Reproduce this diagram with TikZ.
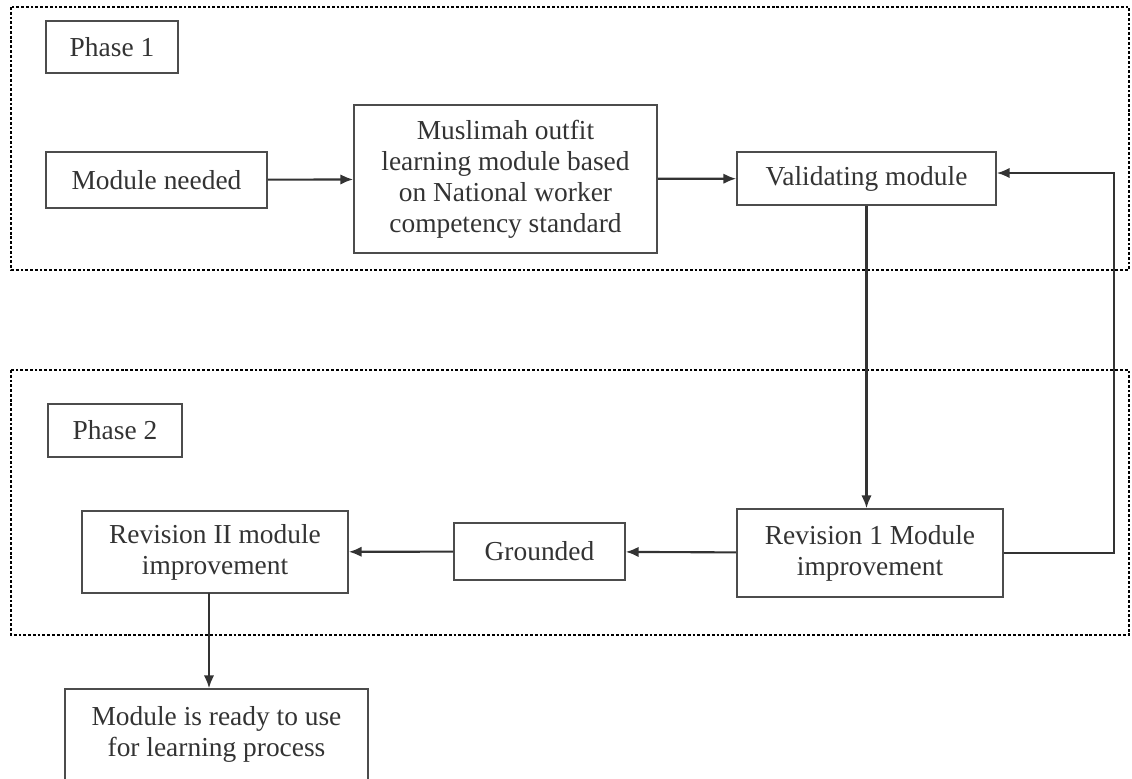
\documentclass[tikz,border=0pt]{standalone}
\usepackage{fontspec}
\setmainfont{Liberation Serif}
\usepackage{tikz}
\usetikzlibrary{arrows.meta}

\begin{document}
\begin{tikzpicture}[
    x=0.025cm, y=-0.025cm,
    box/.style={rectangle, draw=black!70, line width=1.1pt, text=black!80, align=center, inner sep=1pt, font=\fontsize{19.5}{22}\selectfont},
    frame/.style={draw=black, line width=2pt, dash pattern=on 2pt off 1.4pt},
    arrow/.style={-{Latex[length=3.2mm, width=2.6mm]}, line width=1.5pt, draw=black!80}
]
\useasboundingbox (0,0) rectangle (1132,778);
% phase frames
\draw[frame] (11,7) rectangle (1129,270);
\draw[frame] (11,370) rectangle (1129,635);

\node[box, minimum width=3.3cm, minimum height=1.3cm] (phaseone) at (112,47) {Phase 1};
\node[box, minimum width=5.525cm, minimum height=1.4cm] (needed) at (156.5,180) {Module needed};
\node[box, minimum width=7.575cm, minimum height=3.7cm] (muslimah) at (505.5,179) {Muslimah outfit\\learning module based\\on National worker\\competency standard};
\node[box, minimum width=6.475cm, minimum height=1.325cm] (validate) at (866.5,178.5) {Validating module};
\node[box, minimum width=3.35cm, minimum height=1.325cm] (phasetwo) at (115,430.5) {Phase 2};
\node[box, minimum width=6.65cm, minimum height=2.05cm] (revtwo) at (215,552) {Revision II module\\improvement};
\node[box, minimum width=4.275cm, minimum height=1.425cm] (grounded) at (539.5,551.5) {Grounded};
\node[box, minimum width=6.65cm, minimum height=2.2cm] (revone) at (870,553) {Revision 1 Module\\improvement};
\node[box, minimum width=7.575cm, minimum height=2.275cm] (ready) at (216.5,734.5) {Module is ready to use\\for learning process};
\coordinate (loop) at (1114,173);
\coordinate (drop) at (209,593);

\draw[arrow] (needed) -- (muslimah);
\draw[arrow] (muslimah) -- (validate);
\draw[arrow] (validate) -- (validate |- revone.north);
\draw[arrow] (revone) -- (grounded);
\draw[arrow] (grounded) -- (revtwo);
\draw[arrow] (drop) -- (drop |- ready.north);
\draw[arrow] (revone.east) -| (loop) -- (loop -| validate.east);
\end{tikzpicture}
\end{document}
